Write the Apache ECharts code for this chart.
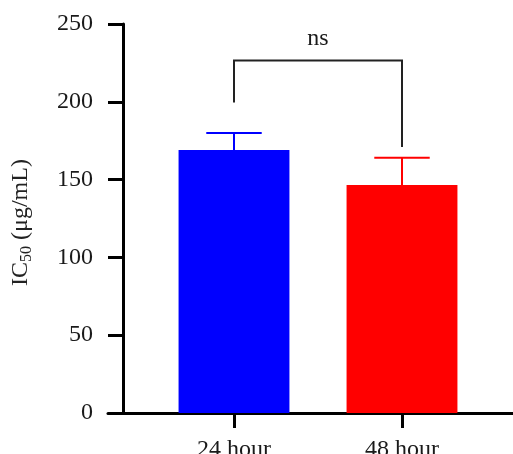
<!DOCTYPE html>
<html>
<head>
<meta charset="utf-8">
<script src="https://cdn.jsdelivr.net/npm/echarts@6/dist/echarts.min.js"></script>
<style>html,body{margin:0;padding:0;background:#fff}#c{width:513px;height:454px}</style>
</head>
<body>
<div id="c"></div>
<script>
var categories = ['24 hour', '48 hour'];
var means = [169, 146.5];
var upperErrors = [180, 164];
var barColors = ['#0000ff', '#ff0000'];
var yTicks = [0, 50, 100, 150, 200, 250];
var bracketBottoms = [199.5, 171];
var bracketTop = 226.5;
var bracketLabel = 'ns';

var FONT = '"Liberation Serif", "DejaVu Serif", serif';
var TXT = '#1a1a1a';
var chart = echarts.init(document.getElementById('c'), null, {renderer: 'canvas'});

var option = {
  backgroundColor: '#fff',
  animation: false,
  grid: [
    {left: 150, right: 27, top: 24, bottom: 41, containLabel: false, outerBoundsMode: 'none'},
    {left: 108, right: 0, top: 24, bottom: 41, containLabel: false, outerBoundsMode: 'none'}
  ],
  xAxis: [
    {
      type: 'category', gridIndex: 0, data: categories,
      axisLine: {show: false},
      axisTick: {show: true, alignWithLabel: true, length: 15, lineStyle: {color: '#000', width: 3}},
      axisLabel: {margin: 25, color: TXT, fontFamily: FONT, fontSize: 24},
      splitLine: {show: false}
    },
    {
      type: 'value', gridIndex: 1, min: 0, max: 1,
      axisLine: {show: true, onZero: false, lineStyle: {color: '#000', width: 3}},
      axisTick: {show: false}, axisLabel: {show: false}, splitLine: {show: false}
    }
  ],
  yAxis: [
    {
      type: 'value', gridIndex: 0, min: yTicks[0], max: yTicks[yTicks.length - 1], interval: 50,
      offset: 27,
      axisLine: {show: true, lineStyle: {color: '#000', width: 3}},
      axisTick: {show: true, length: 15, lineStyle: {color: '#000', width: 3}},
      axisLabel: {margin: 30, color: TXT, fontFamily: FONT, fontSize: 24},
      splitLine: {show: false},
      name: '{a|IC}{b|50}{a| (μg/mL)}',
      nameLocation: 'middle', nameRotate: 90, nameGap: 88,
      nameTextStyle: {
        color: TXT,
        padding: [0, 8, 0, 0],
        rich: {
          a: {fontFamily: FONT, fontSize: 24, color: '#222', lineHeight: 28},
          b: {fontFamily: FONT, fontSize: 16, color: '#222', verticalAlign: 'bottom', lineHeight: 16}
        }
      }
    },
    {
      type: 'value', gridIndex: 1, show: false, min: 0, max: 1
    }
  ],
  series: [
    {
      type: 'bar', xAxisIndex: 0, yAxisIndex: 0,
      barWidth: '66%',
      data: means.map(function (v, i) { return {value: v, itemStyle: {color: barColors[i]}}; }),
      z: 2
    },
    {
      type: 'custom', xAxisIndex: 0, yAxisIndex: 0,
      data: upperErrors.map(function (v, i) { return [i, means[i], v]; }),
      renderItem: function (params, api) {
        var i = api.value(0);
        var base = api.coord([i, api.value(1)]);
        var top = api.coord([i, api.value(2)]);
        var half = api.size([1, 0])[0] * 0.165;
        var col = barColors[params.dataIndex];
        return {
          type: 'group',
          children: [
            {type: 'line', shape: {x1: base[0], y1: base[1], x2: top[0], y2: top[1]}, style: {stroke: col, lineWidth: 2}},
            {type: 'line', shape: {x1: top[0] - half, y1: top[1], x2: top[0] + half, y2: top[1]}, style: {stroke: col, lineWidth: 2}}
          ]
        };
      },
      z: 3
    },
    {
      type: 'custom', xAxisIndex: 0, yAxisIndex: 0,
      data: [[0, 1, bracketBottoms[0], bracketBottoms[1], bracketTop]],
      renderItem: function (params, api) {
        var p1 = api.coord([api.value(0), api.value(2)]);
        var p2 = api.coord([api.value(0), api.value(4)]);
        var p3 = api.coord([api.value(1), api.value(4)]);
        var p4 = api.coord([api.value(1), api.value(3)]);
        return {
          type: 'group',
          children: [
            {type: 'polyline', shape: {points: [p1, p2, p3, p4]}, style: {stroke: '#222', lineWidth: 2, fill: null}},
            {type: 'text', style: {text: bracketLabel, x: (p2[0] + p3[0]) / 2, y: p2[1] - 10,
              align: 'center', verticalAlign: 'bottom', fontFamily: FONT, fontSize: 24, fill: TXT}}
          ]
        };
      },
      z: 3
    }
  ]
};
chart.setOption(option);
</script>
</body>
</html>
